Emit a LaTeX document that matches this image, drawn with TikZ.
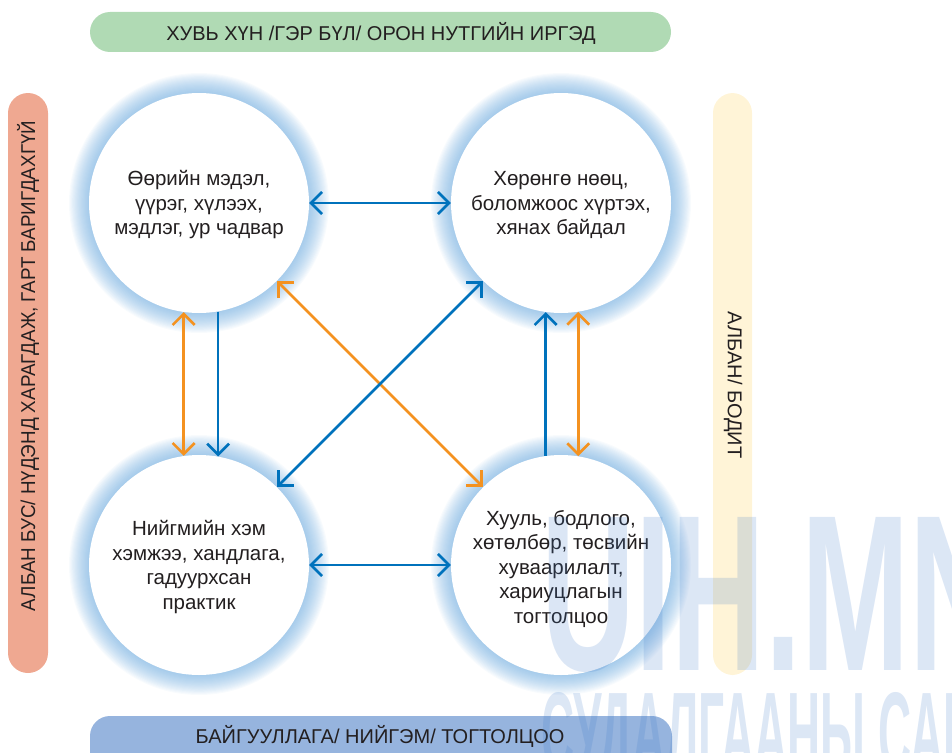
\documentclass[tikz,border=0pt]{standalone}
\usepackage{fontspec}
\setmainfont{Liberation Sans}
\usetikzlibrary{arrows.meta}
\definecolor{txt}{RGB}{35,31,32}
\definecolor{bargreen}{RGB}{176,218,180}
\definecolor{barblue}{RGB}{150,180,222}
\definecolor{barsalmon}{RGB}{239,168,145}
\definecolor{baryellow}{RGB}{255,244,215}
\definecolor{arrblue}{RGB}{0,114,188}
\definecolor{arrorange}{RGB}{244,146,32}
\definecolor{glowc}{RGB}{100,165,220}
\definecolor{wmblue}{RGB}{60,120,200}
\tikzset{
  bubble/.style={circle, minimum size=220pt, inner sep=0pt, fill=white},
  bubbletext/.style={align=center, text=txt, font=\fontsize{20.5}{24.5}\selectfont, inner sep=0pt},
  bartext/.style={text=txt, font=\fontsize{20}{22}\selectfont, inner sep=0pt},
  tipb/.tip={Straight Barb[length=11pt,width=22pt,line width=2.6pt]},
  bluearr/.style={draw=arrblue, line width=2.7pt},
  orangearr/.style={draw=arrorange, line width=2.7pt},
}
\begin{document}
\begin{tikzpicture}[x=1pt,y=-1pt]
\useasboundingbox (0,0) rectangle (952,752);
% bars
\fill[bargreen, rounded corners=20pt] (90,12) rectangle (671,52);
\node[bartext] (topt) at (381,33) {ХУВЬ ХҮН /ГЭР БҮЛ/ ОРОН НУТГИЙН ИРГЭД};
\fill[barblue, rounded corners=20pt] (90,716) rectangle (672,790);
\node[bartext] (bott) at (380,736) {БАЙГУУЛЛАГА/ НИЙГЭМ/ ТОГТОЛЦОО};
\fill[barsalmon, rounded corners=20pt] (8,93) rectangle (48,673);
\node[bartext, rotate=90] (leftt) at (28,366) {\scalebox{0.94}[1]{АЛБАН БУС/ НҮДЭНД ХАРАГДАЖ, ГАРТ БАРИГДАХГҮЙ}};
\fill[baryellow, rounded corners=20pt] (713,93) rectangle (752,675);
\node[bartext, rotate=-90] (rightt) at (733,385) {АЛБАН/ БОДИТ};
% glows
\foreach \cx/\cy in {199/203, 561/203, 199/565, 561/565}{
  \foreach \k in {1,...,20}{
    \fill[glowc, opacity=0.042] (\cx,\cy) circle[radius=109pt+\k*1.05pt];
  }
}
% circles
\node[bubble] (A) at (199,203) {};
\node[bubble] (B) at (561,203) {};
\node[bubble] (C) at (199,565) {};
\node[bubble] (D) at (561,565) {};
\node[bubbletext] (At) at (199,205) {Өөрийн мэдэл,\\үүрэг, хүлээх,\\мэдлэг, ур чадвар};
\node[bubbletext] (Bt) at (561,205) {Хөрөнгө нөөц,\\боломжоос хүртэх,\\хянах байдал};
\node[bubbletext] (Ct) at (199,567) {Нийгмийн хэм\\хэмжээ, хандлага,\\гадуурхсан\\практик};
\node[bubbletext] (Dt) at (561,569) {Хууль, бодлого,\\хөтөлбөр, төсвийн\\хуваарилалт,\\хариуцлагын\\тогтолцоо};
% arrows
\draw[bluearr, tipb-tipb] (A.east) -- (B.west);
\draw[bluearr, tipb-tipb] (C.east) -- (D.west);
\draw[orangearr, tipb-tipb] (A.-98.9) -- (C.98.9);
\draw[bluearr, -tipb] (A.-80.6) -- (C.80.6);
\draw[bluearr, -tipb] (D.98.9) -- (B.-98.9);
\draw[orangearr, tipb-tipb] (D.81.1) -- (B.-81.1);
\draw[orangearr, tipb-tipb] (A.-45) -- (D.135);
\draw[bluearr, tipb-tipb] (C.45) -- (B.-135);
% watermark
\node[inner sep=0pt, anchor=south west, text=wmblue, opacity=0.18] (wm1) at (541,673)
  {\resizebox{462pt}{153pt}{\bfseries UIH.MN}};
\node[inner sep=0pt, anchor=north west, text=wmblue, opacity=0.18] (wm2) at (541,692)
  {\resizebox{435pt}{80pt}{\bfseries СУДАЛГААНЫ САН}};
\end{tikzpicture}
\end{document}
